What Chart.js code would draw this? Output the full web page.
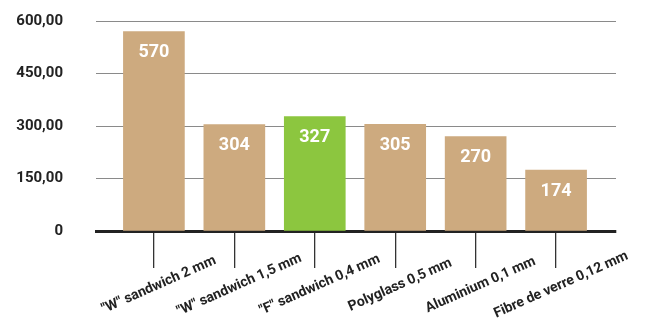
<!DOCTYPE html>
<html>
<head>
<meta charset="utf-8">
<script src="https://cdn.jsdelivr.net/npm/chart.js@4/dist/chart.umd.min.js"></script>
<style>
  html, body { margin: 0; padding: 0; background: #ffffff; }
  #wrap { width: 654px; height: 321px; position: relative; }
</style>
</head>
<body>
<div id="wrap"><canvas id="chart"></canvas></div>
<script>
// Materials compared and their measured values
const categories = ['"W" sandwich 2 mm', '"W" sandwich 1,5 mm', '"F" sandwich 0,4 mm',
                    'Polyglass 0,5 mm', 'Aluminium 0,1 mm', 'Fibre de verre 0,12 mm'];
const values = [570, 304, 327, 305, 270, 174];
const highlighted = [false, false, true, false, false, false];
const yTicks = [0, 150, 300, 450, 600];

const TAN = '#cdaa7f';
const GREEN = '#8cc63f';
const INK = '#222222';
const FONT = 'Roboto, "DejaVu Sans", sans-serif';

const points = values.map((v, i) => ({ x: i, y: v }));

// White value printed near the top of each bar
const valueLabels = {
  id: 'valueLabels',
  afterDatasetsDraw(chart) {
    const ctx = chart.ctx;
    const meta = chart.getDatasetMeta(0);
    ctx.save();
    ctx.fillStyle = '#ffffff';
    ctx.font = 'bold 18px ' + FONT;
    ctx.textAlign = 'center';
    ctx.textBaseline = 'middle';
    meta.data.forEach((bar, i) => {
      ctx.fillText(String(values[i]), bar.x, bar.y + 21);
    });
    ctx.restore();
  }
};

// Slanted category names centred under each tick mark
const slantedLabels = {
  id: 'slantedLabels',
  afterDraw(chart) {
    const ctx = chart.ctx;
    const xs = chart.scales.x;
    const baseY = chart.chartArea.bottom + 37 + 17;
    ctx.save();
    ctx.fillStyle = INK;
    ctx.font = 'bold 14px ' + FONT;
    ctx.textAlign = 'center';
    ctx.textBaseline = 'middle';
    categories.forEach((name, i) => {
      const px = xs.getPixelForValue(i);
      ctx.save();
      ctx.translate(px + 5, baseY);
      ctx.rotate(-24 * Math.PI / 180);
      ctx.fillText(name, 0, 0);
      ctx.restore();
    });
    ctx.restore();
  }
};

new Chart(document.getElementById('chart'), {
  type: 'bar',
  data: {
    datasets: [{
      data: points,
      backgroundColor: highlighted.map(h => h ? GREEN : TAN),
      borderWidth: 0,
      barThickness: 61
    }]
  },
  options: {
    responsive: true,
    maintainAspectRatio: false,
    animation: false,
    layout: { padding: { top: 21, right: 38, left: 0, bottom: 0 } },
    plugins: { legend: { display: false }, tooltip: { enabled: false } },
    scales: {
      x: {
        type: 'linear',
        offset: false,
        min: -0.72,
        max: 5.745,
        afterBuildTicks(scale) {
          scale.ticks = categories.map((_, i) => ({ value: i }));
        },
        afterFit(scale) {
          scale.height = 90;
          scale.paddingLeft = 0;
          scale.paddingRight = 0;
        },
        ticks: { display: false },
        grid: {
          offset: false,
          drawOnChartArea: false,
          drawTicks: true,
          tickLength: 37,
          color: '#333333',
          lineWidth: 1.3
        },
        border: { display: true, color: INK, width: 3 }
      },
      y: {
        min: 0,
        max: 600,
        afterBuildTicks(scale) {
          scale.ticks = yTicks.map(v => ({ value: v }));
        },
        afterFit(scale) {
          scale.width = 96;
          scale.paddingTop = 0;
          scale.paddingBottom = 0;
        },
        ticks: {
          padding: 33,
          color: INK,
          font: { family: FONT, size: 15, weight: 'bold' },
          callback: v => v === 0 ? '0' : v.toFixed(2).replace('.', ',')
        },
        grid: { color: '#8a8a8a', lineWidth: 1, drawTicks: false },
        border: { display: false }
      }
    }
  },
  plugins: [valueLabels, slantedLabels]
});
</script>
</body>
</html>
